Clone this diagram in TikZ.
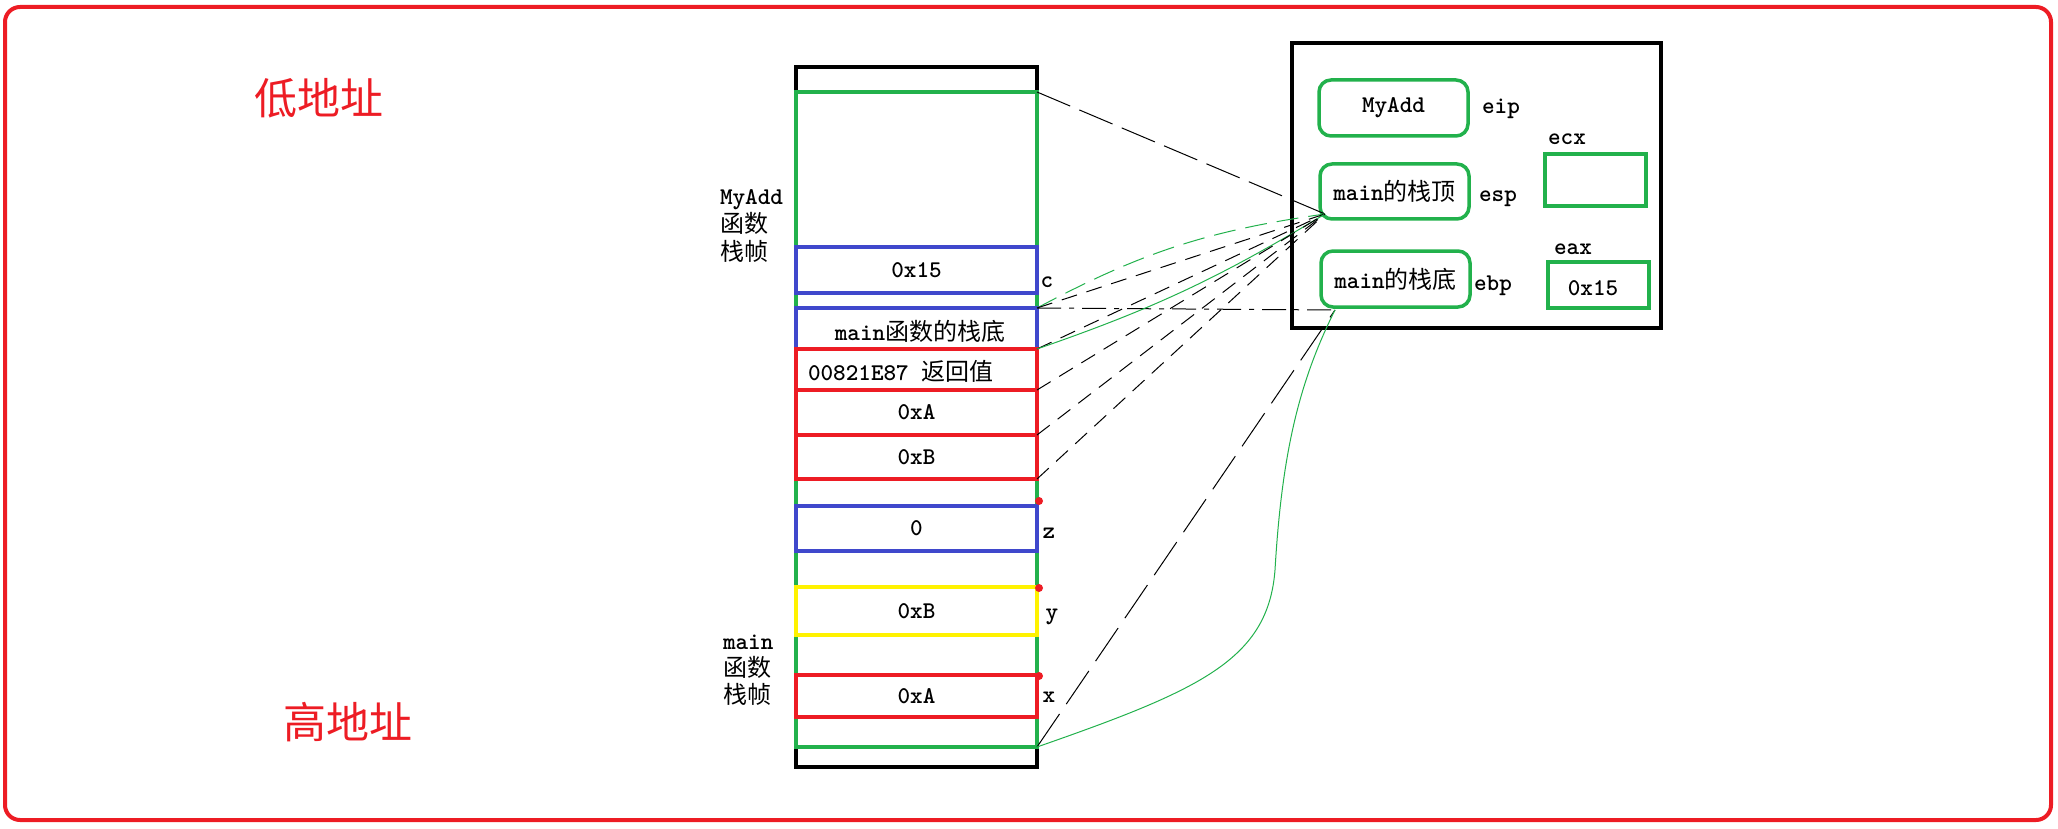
\documentclass[tikz,border=0pt]{standalone}
\usepackage{fontspec}
\newfontfamily\cjk{Noto Sans CJK SC}
\newcommand\zh[1]{{\cjk\mdseries #1}}
\definecolor{pgreen}{HTML}{22B14C}
\definecolor{pblue}{HTML}{3F48CC}
\definecolor{pred}{HTML}{ED1C24}
\definecolor{pyellow}{HTML}{FFF200}
\begin{document}
\begin{tikzpicture}[x=1pt,y=-1pt,
  every node/.style={font=\ttfamily\bfseries\fontsize{24}{28}\selectfont, inner sep=0pt, outer sep=0pt},
  slot/.style={draw=#1, line width=3.5pt, minimum width=241pt},
  reg/.style={draw=pgreen, line width=3.5pt, rounded corners=12pt, minimum width=149pt},
  regsq/.style={draw=pgreen, line width=3.5pt, minimum width=101pt},
  lbl/.style={text height=17pt, text depth=5pt},
  blk/.style={black, line width=1pt},
  grn/.style={pgreen, line width=1pt},
  dsh/.style={dash pattern=on 16pt off 10pt},
  dot/.style={fill=pred, circle, minimum size=8pt}
]
\useasboundingbox (0,0) rectangle (2058,829);
% outer frame
\draw[pred, line width=4pt, rounded corners=15pt] (5,7) rectangle (2051,820);
% address labels
\node[text=pred, font=\cjk\fontsize{43}{43}\selectfont] (low) at (319,98) {低地址};
\node[text=pred, font=\cjk\fontsize{43}{43}\selectfont] (high) at (348,722) {高地址};
% stack
\node[draw=black, line width=3.5pt, minimum width=241pt, minimum height=700pt] (stack) at (916.5,417) {};
\node[slot=pgreen, minimum height=216pt] (frameA) at (916.5,200) {};
\node[slot=pgreen, minimum height=268pt] (frameM) at (916.5,613) {};
\node[slot=pblue, minimum height=46pt] (s15) at (916.5,270) {0x15};
\node[slot=pblue, minimum height=41pt] (sebp) at (916.5,328.5) {};
\node (tebp) at (920,331) {main\zh{函数的栈底}};
\node[slot=pred, minimum height=41pt] (sret) at (916.5,369.5) {};
\node[anchor=west] (tret) at (808,371) {00821E87 \zh{返回值}};
\node[slot=pred, minimum height=45pt] (sa) at (916.5,412.5) {0xA};
\node[slot=pred, minimum height=44pt] (sb) at (916.5,457) {0xB};
\node[slot=pblue, minimum height=45pt] (sz) at (916.5,528.5) {0};
\node[slot=pyellow, minimum height=48pt] (sy) at (916.5,611) {0xB};
\node[slot=pred, minimum height=42pt] (sx) at (916.5,696) {0xA};
\node[dot] (dz) at (1039,501) {};
\node[dot] (dy) at (1039,588) {};
\node[dot] (dx) at (1039,676) {};
% side labels
\node[lbl] (lc) at (1047,281) {c};
\node[lbl] (lz) at (1049,532) {z};
\node[lbl] (ly) at (1052,613) {y};
\node[lbl] (lx) at (1049,696) {x};
\node[align=left, anchor=west, font=\ttfamily\bfseries\fontsize{24}{28}\selectfont] (fa) at (720,226) {MyAdd\\\zh{函数}\\\zh{栈帧}};
\node[align=left, anchor=west, font=\ttfamily\bfseries\fontsize{24}{27}\selectfont] (fm) at (723,670) {main\\\zh{函数}\\\zh{栈帧}};
% registers
\node[draw=black, line width=3.5pt, minimum width=369pt, minimum height=285pt] (regs) at (1476.5,185.5) {};
\node[reg, minimum height=56pt] (myadd) at (1393.5,108) {MyAdd};
\node[reg, minimum height=55pt] (esp) at (1394.5,191.5) {main\zh{的栈顶}};
\node[reg, minimum height=56pt] (ebp) at (1395.5,279) {main\zh{的栈底}};
\node[regsq, minimum height=52pt] (ecx) at (1595.5,180) {};
\node[regsq, minimum height=46pt] (eax) at (1598.5,285) {};
\node (t15) at (1593,288) {0x15};
\node[lbl] (leip) at (1501,108) {eip};
\node[lbl] (lesp) at (1498,195) {esp};
\node[lbl] (lebp) at (1493,284) {ebp};
\node[lbl] (lecx) at (1567,139) {ecx};
\node[lbl] (leax) at (1573,248) {eax};
\coordinate (espP) at (1325,214);
\coordinate (ebpP) at (1335,310);
% connectors
\draw[blk, dash pattern=on 36pt off 10pt] (frameA.north east) -- (espP);
\draw[blk, dash pattern=on 24pt off 8pt on 5pt off 8pt] (frameA.south east) -- (ebpP);
\draw[grn, dash pattern=on 22pt off 10pt] (frameA.south east) to[bend left=10] (espP);
\draw[blk, dsh] (frameA.south east) -- (espP);
\draw[blk, dsh] (sebp.south east) -- (espP);
\draw[grn] (sebp.south east) to[bend right=6] (espP);
\draw[blk, dsh] (sret.south east) -- (espP);
\draw[blk, dsh] (sa.south east) -- (espP);
\draw[blk, dsh] (sb.south east) -- (espP);
\draw[blk, dash pattern=on 40pt off 12pt] (frameM.south east) -- (ebpP);
\draw[grn] (frameM.south east) .. controls (1200,690) and (1268,660) .. (1275,570) .. controls (1282,450) and (1300,380) .. (ebpP);
\end{tikzpicture}
\end{document}
